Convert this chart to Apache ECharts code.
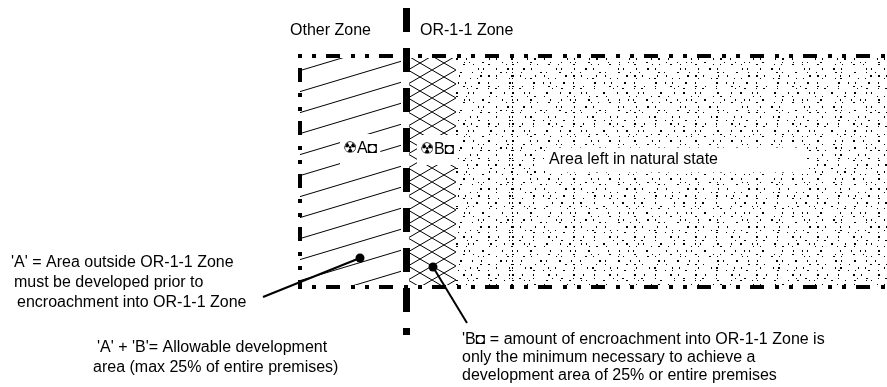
<!DOCTYPE html>
<html>
<head>
<meta charset="utf-8">
<script src="https://cdn.jsdelivr.net/npm/echarts@6/dist/echarts.min.js"></script>
<style>
  html, body { margin: 0; padding: 0; background: #fff; }
  #chart { width: 887px; height: 387px; }
</style>
</head>
<body>
<div id="chart"></div>
<script>
// diagram coordinates are in page units (0..887 across, 0..387 down)
const zoneNames = ['offset', 'A', 'gap', 'B', 'natural'];
const zoneEdges = [300, 401, 409, 456, 887];

const borderTop = [[298, 56], [887, 56]];
const borderLeft = [[300, 54], [300, 289]];
const borderBottom = [[298, 287], [887, 287]];
const divider = [[406.5, 8], [406.5, 335]];

const leaderA = [[263, 297], [360, 258]];
const leaderB = [[433, 267], [467, 323]];
const leaderDots = [[360, 258], [433, 267]];

// [text, x, y]
const plainLabels = [
  ['Other Zone', 290, 31],
  ['OR-1-1 Zone', 420, 31],
  ["'A' = Area outside OR-1-1 Zone", 11, 263],
  ['must be developed prior to', 14, 283],
  ['encroachment into OR-1-1 Zone', 17, 303],
  ["'A' + 'B'= Allowable development", 97, 348],
  ['area (max 25% of entire premises)', 93, 368],
  ["'B\u25D8 = amount of encroachment into OR-1-1 Zone is", 462, 340],
  ['only the minimum necessary to achieve a', 462, 358],
  ['development area of 25% or entire premises', 462, 376]
];
const zoneLabels = [
  ['\u2622A\u25D8', 340, 149],
  ['\u2622B\u25D8', 417, 150]
];
const boxLabel = ['Area left in natural state', 545, 160];

const FONT = "'Liberation Sans', Arial, sans-serif";

function hatchTile() {
  const c = document.createElement('canvas');
  c.width = 70; c.height = 21;
  const g = c.getContext('2d');
  g.strokeStyle = '#000';
  g.lineWidth = 1;
  for (let m = 0; m <= 1; m++) {
    g.beginPath();
    g.moveTo(0, 13.6 + 21 * m);
    g.lineTo(70, -7.4 + 21 * m);
    g.stroke();
  }
  return c;
}

function crossTile() {
  const c = document.createElement('canvas');
  c.width = 24; c.height = 14;
  const g = c.getContext('2d');
  g.strokeStyle = '#000';
  g.lineWidth = 1;
  g.beginPath();
  g.moveTo(-24, -14); g.lineTo(48, 28);
  g.moveTo(-24, 28); g.lineTo(48, -14);
  g.stroke();
  return c;
}

// speckle texture for the natural area
const stipple = {
  symbol: 'rect',
  symbolSize: 1,
  color: '#000',
  maxTileWidth: 512,
  maxTileHeight: 512,
  dashArrayX: [
    [1, 6, 2, 12, 1, 18, 1, 8, 2, 10],
    [2, 10, 1, 4, 1, 16, 2, 12, 1, 8],
    [1, 14, 1, 6, 2, 8, 1, 22, 1, 6],
    [1, 4, 1, 12, 2, 18, 1, 10, 1, 8],
    [2, 16, 1, 6, 1, 10, 2, 8, 1, 14],
    [1, 10, 2, 6, 1, 24, 1, 4, 1, 12],
    [1, 8, 1, 18, 2, 4, 1, 12, 2, 10],
    [2, 6, 1, 14, 1, 8, 1, 20, 2, 6],
    [1, 12, 1, 4, 2, 16, 1, 6, 1, 18],
    [1, 20, 2, 8, 1, 6, 1, 12, 2, 8],
    [2, 8, 1, 10, 1, 14, 2, 6, 1, 16]
  ],
  dashArrayY: [1, 2, 2, 1, 1, 3, 2, 2, 1, 1, 1, 3, 2, 2]
};

const fills = {
  offset: 'rgba(0,0,0,0)',
  A: { image: hatchTile(), repeat: 'repeat' },
  gap: 'rgba(0,0,0,0)',
  B: { image: crossTile(), repeat: 'repeat' },
  natural: '#fff'
};

const zoneSeries = zoneNames.map(function (name, i) {
  const start = i === 0 ? 0 : zoneEdges[i - 1];
  return {
    name: name,
    type: 'bar',
    xAxisIndex: 0,
    yAxisIndex: 0,
    stack: 'site',
    barWidth: '100%',
    silent: true,
    z: 1,
    data: [zoneEdges[i] - start],
    itemStyle: name === 'natural'
      ? { color: fills[name], decal: stipple }
      : { color: fills[name] }
  };
});

function lineSeries(points, width, dash, offset) {
  return {
    type: 'line',
    xAxisIndex: 1,
    yAxisIndex: 1,
    data: points,
    symbol: 'none',
    silent: true,
    z: 3,
    lineStyle: { color: '#000', width: width, type: dash || 'solid', dashOffset: offset || 0, cap: 'butt' }
  };
}

const borderDash = [4, 10, 4, 10, 14, 11];

const labelData = plainLabels.map(function (l) {
  return { value: [l[1], l[2]], label: { formatter: l[0] } };
}).concat(zoneLabels.map(function (l) {
  return {
    value: [l[1], l[2]],
    label: { formatter: l[0], backgroundColor: '#fff', padding: [7, 3, 7, 3] }
  };
})).concat([{
  value: [boxLabel[1], boxLabel[2]],
  label: {
    formatter: boxLabel[0], backgroundColor: '#fff',
    padding: [5, 0, 4, 4], width: 258
  }
}]);

const chart = echarts.init(document.getElementById('chart'), null, { renderer: 'canvas' });
chart.setOption({
  animation: false,
  backgroundColor: '#fff',
  grid: [
    { left: 0, right: 0, top: 58, height: 227 },
    { left: 0, right: 0, top: 0, bottom: 0 }
  ],
  xAxis: [
    { type: 'value', gridIndex: 0, min: 0, max: 887, show: false },
    { type: 'value', gridIndex: 1, min: 0, max: 887, show: false }
  ],
  yAxis: [
    { type: 'category', gridIndex: 0, data: ['site'], show: false },
    { type: 'value', gridIndex: 1, min: 0, max: 387, inverse: true, show: false }
  ],
  series: zoneSeries.concat([
    lineSeries(borderTop, 4, borderDash, 0),
    lineSeries(borderLeft, 4, borderDash, 14),
    lineSeries(borderBottom, 4, borderDash, 0),
    lineSeries(divider, 7, [24, 16], 0),
    lineSeries(leaderA, 2),
    lineSeries(leaderB, 2),
    {
      type: 'scatter',
      xAxisIndex: 1,
      yAxisIndex: 1,
      data: leaderDots,
      symbolSize: 9,
      itemStyle: { color: '#000', opacity: 1 },
      silent: true,
      z: 4
    },
    {
      type: 'scatter',
      xAxisIndex: 1,
      yAxisIndex: 1,
      data: labelData,
      symbolSize: 0,
      itemStyle: { color: '#fff', opacity: 1 },
      silent: true,
      z: 5,
      label: {
        show: true,
        position: 'right',
        distance: 0,
        color: '#000',
        opacity: 1,
        fontFamily: FONT,
        fontSize: 16
      }
    }
  ])
});
</script>
</body>
</html>
